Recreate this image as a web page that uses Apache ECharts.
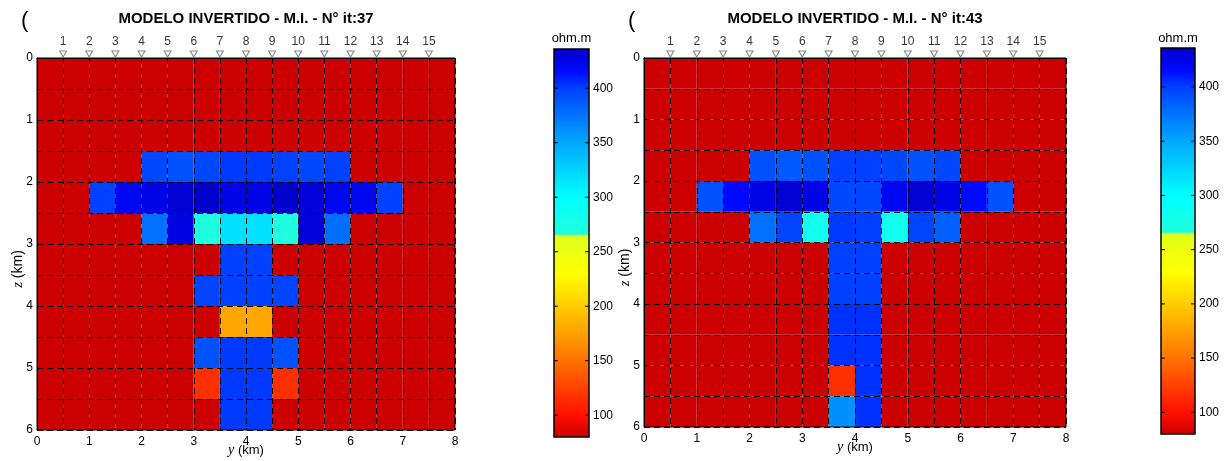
<!DOCTYPE html>
<html>
<head>
<meta charset="utf-8">
<script src="https://cdn.jsdelivr.net/npm/echarts@6/dist/echarts.min.js"></script>
<style>
html,body{margin:0;padding:0;background:#fff;}
#chart{width:1226px;height:461px;}
</style>
</head>
<body>
<div id="chart"></div>
<script>
// ---- data ----
const titles = ['MODELO INVERTIDO - M.I. - N° it:37', 'MODELO INVERTIDO - M.I. - N° it:43'];
const yCells = [0,0.5,1,1.5,2,2.5,3,3.5,4,4.5,5,5.5,6,6.5,7,7.5];   // left edge of each cell (km)
const zCells = [0,0.5,1,1.5,2,2.5,3,3.5,4,4.5,5,5.5];               // top edge of each cell (km)
const cellSize = 0.5;
const stationPos = [0.5,1,1.5,2,2.5,3,3.5,4,4.5,5,5.5,6,6.5,7,7.5];
const stationLabels = ['1','2','3','4','5','6','7','8','9','10','11','12','13','14','15'];
const xTickLabels = [0,1,2,3,4,5,6,7,8];
const zTickLabels = [0,1,2,3,4,5,6];
const cbTicks = [100,150,200,250,300,350,400];
const cbMin = 80, cbMax = 436;

// resistivity (ohm.m), rows = z cells, columns = y cells
const modelIt37 = [
 [80,80,80,80,80,80,80,80,80,80,80,80,80,80,80,80],
 [80,80,80,80,80,80,80,80,80,80,80,80,80,80,80,80],
 [80,80,80,80,80,80,80,80,80,80,80,80,80,80,80,80],
 [80,80,80,80,396,392,396,402,402,400,396,400,80,80,80,80],
 [80,80,400,421,425,434,436,425,425,436,431,421,421,400,80,80],
 [80,80,80,80,377,428,268,318,318,268,431,378,80,80,80,80],
 [80,80,80,80,80,80,80,400,400,80,80,80,80,80,80,80],
 [80,80,80,80,80,80,398,400,400,398,80,80,80,80,80,80],
 [80,80,80,80,80,80,80,179,179,80,80,80,80,80,80,80],
 [80,80,80,80,80,80,392,402,402,392,80,80,80,80,80,80],
 [80,80,80,80,80,80,116,402,402,116,80,80,80,80,80,80],
 [80,80,80,80,80,80,80,402,402,80,80,80,80,80,80,80]
];
const modelIt43 = [
 [80,80,80,80,80,80,80,80,80,80,80,80,80,80,80,80],
 [80,80,80,80,80,80,80,80,80,80,80,80,80,80,80,80],
 [80,80,80,80,80,80,80,80,80,80,80,80,80,80,80,80],
 [80,80,80,80,392,388,392,400,400,396,392,396,80,80,80,80],
 [80,80,392,417,425,434,425,396,396,421,434,425,415,392,80,80],
 [80,80,80,80,377,398,283,402,400,283,398,385,80,80,80,80],
 [80,80,80,80,80,80,80,400,400,80,80,80,80,80,80,80],
 [80,80,80,80,80,80,80,400,400,80,80,80,80,80,80,80],
 [80,80,80,80,80,80,80,404,404,80,80,80,80,80,80,80],
 [80,80,80,80,80,80,80,404,404,80,80,80,80,80,80,80],
 [80,80,80,80,80,80,80,116,404,80,80,80,80,80,80,80],
 [80,80,80,80,80,80,80,361,404,80,80,80,80,80,80,80]
];

// ---- colormap (style) ----
const cmapStops = [
 [80,[204,0,0]],[100,[255,16,0]],[150,[255,115,0]],[200,[255,205,0]],[230,[255,255,0]],
 [265,[222,255,30]],[266,[32,255,222]],[300,[0,255,255]],[350,[0,168,255]],
 [400,[0,64,255]],[415,[0,10,255]],[436,[0,0,205]]
];
function cmapAt(v){
  for(let i=0;i<cmapStops.length-1;i++){
    const a=cmapStops[i], b=cmapStops[i+1];
    if(v>=a[0] && v<=b[0]){
      const t=(v-a[0])/(b[0]-a[0]);
      const c=a[1].map((x,k)=>Math.round(x+(b[1][k]-x)*t));
      return 'rgb('+c.join(',')+')';
    }
  }
  return 'rgb(0,0,205)';
}
const cmapColors=[];
for(let v=cbMin; v<=cbMax; v++) cmapColors.push(cmapAt(v));
const cbGradientStops = cmapColors.map((c,k)=>({offset:k/(cmapColors.length-1), color:c}));

function toCells(m){
  const out=[];
  zCells.forEach((z,r)=>{ yCells.forEach((y,c)=>{ out.push([y,z,m[r][c]]); }); });
  return out;
}

const FONT='Liberation Sans';
const plots=[
  {left:37, top:58, width:418, height:372, cb:{left:554, top:49, width:35, height:388}, paren:21},
  {left:644, top:58, width:422, height:369, cb:{left:1161, top:48, width:34, height:386}, paren:628}
];
const models=[modelIt37, modelIt43];

const grid=[], xAxis=[], yAxis=[], series=[], visualMap=[], title=[], graphic=[];
plots.forEach((p,i)=>{
  grid.push({left:p.left, top:p.top, width:p.width, height:p.height, show:true,
    borderColor:'#000', borderWidth:1, backgroundColor:'transparent', z:10,
    containLabel:false, outerBoundsMode:'none'});
  grid.push({left:p.cb.left, top:p.cb.top, width:p.cb.width, height:p.cb.height, show:true,
    borderColor:'#000', borderWidth:1.5, backgroundColor:'transparent', z:10,
    containLabel:false, outerBoundsMode:'none'});
  const dash={color:'#000', type:[6,4], width:1};
  xAxis.push({gridIndex:2*i, type:'value', min:0, max:8, interval:cellSize, position:'bottom', z:10,
    axisLine:{lineStyle:{color:'#000'}}, axisTick:{show:false},
    axisLabel:{color:'#000', fontSize:12, fontFamily:FONT, margin:6,
      customValues:xTickLabels},
    splitLine:{show:true, lineStyle:dash},
    name:'{i|y} (km)', nameLocation:'middle', nameGap:13, nameMoveOverlap:false,
    nameTextStyle:{color:'#000', fontSize:13, fontFamily:FONT, verticalAlign:'top',
      rich:{i:{fontFamily:'Liberation Serif', fontStyle:'italic', fontSize:14, color:'#000'}}}});
  yAxis.push({gridIndex:2*i, type:'value', min:0, max:6, interval:cellSize, inverse:true, position:'left', z:10,
    axisLine:{lineStyle:{color:'#000'}}, axisTick:{show:false},
    axisLabel:{color:'#000', fontSize:12, fontFamily:FONT, margin:4, customValues:zTickLabels},
    splitLine:{show:true, lineStyle:dash},
    name:'{i|z} (km)', nameLocation:'middle', nameGap:11, nameMoveOverlap:false,
    nameTextStyle:{color:'#000', fontSize:14, fontFamily:FONT, padding:[0,50,0,0],
      rich:{i:{fontFamily:'Liberation Serif', fontStyle:'italic', fontSize:15, color:'#000'}}}});
  // colorbar axes
  xAxis.push({gridIndex:2*i+1, type:'value', min:0, max:1, show:false});
  yAxis.push({gridIndex:2*i+1, type:'value', min:cbMin, max:cbMax, position:'right', z:11,
    axisLine:{show:false, onZero:false}, splitLine:{show:false},
    axisTick:{show:false},
    axisLabel:{color:'#000', fontSize:12, fontFamily:FONT, margin:4, customValues:cbTicks}});
});
// yAxis indices: plot0 ->0, cb0 ->1, plot1 ->2, cb1 ->3
const plotY=[0,2];
plots.forEach((p,i)=>{
  series.push({type:'custom', xAxisIndex:2*i, yAxisIndex:plotY[i], z:2,
    data:toCells(models[i]),
    encode:{x:0, y:1},
    renderItem:function(params, api){
      const y0=api.value(0), z0=api.value(1);
      const a=api.coord([y0, z0]), b=api.coord([y0+cellSize, z0+cellSize]);
      return {type:'rect',
        shape:{x:Math.min(a[0],b[0]), y:Math.min(a[1],b[1]), width:Math.abs(b[0]-a[0]), height:Math.abs(b[1]-a[1])},
        style:{fill:api.visual('color'), stroke:null}};
    }});
});
plots.forEach((p,i)=>{
  series.push({type:'scatter', xAxisIndex:2*i, yAxisIndex:plotY[i], z:12, clip:false, silent:true,
    data:stationPos.map((s,k)=>({value:[s,0], name:stationLabels[k]})),
    symbol:'triangle', symbolRotate:180, symbolSize:[7,6], symbolOffset:[0,-4],
    itemStyle:{color:'#fff', borderColor:'#666', borderWidth:1},
    label:{show:true, position:'top', distance:3, formatter:'{b}', color:'#000', fontSize:12, fontFamily:FONT}});
});
// colorbars drawn through the colorbar axes
plots.forEach((p,i)=>{
  series.push({type:'custom', xAxisIndex:2*i+1, yAxisIndex:plotY[i]+1, z:2, silent:true,
    data:[[0, cbMin, cbMax]],
    renderItem:function(params, api){
      const a=api.coord([0, api.value(2)]), b=api.coord([1, api.value(1)]);
      return {type:'rect', shape:{x:a[0], y:a[1], width:b[0]-a[0], height:b[1]-a[1]},
        style:{fill:new echarts.graphic.LinearGradient(0,1,0,0, cbGradientStops)}};
    }});
  // inside tick marks on both edges of the colorbar
  series.push({type:'custom', xAxisIndex:2*i+1, yAxisIndex:plotY[i]+1, z:12, silent:true,
    data:cbTicks.map(v=>[0, v]), encode:{x:0, y:1},
    renderItem:function(params, api){
      const l=api.coord([0, api.value(1)]), r=api.coord([1, api.value(1)]);
      const st={stroke:'#000', lineWidth:1};
      return {type:'group', children:[
        {type:'line', shape:{x1:l[0], y1:l[1], x2:l[0]+4, y2:l[1]}, style:st},
        {type:'line', shape:{x1:r[0]-4, y1:r[1], x2:r[0], y2:r[1]}, style:st}
      ]};
    }});
});
plots.forEach((p,i)=>{
  visualMap.push({type:'continuous', seriesIndex:i, dimension:2, min:cbMin, max:cbMax,
    show:false, inRange:{color:cmapColors}});
  title.push({text:titles[i], left:p.left+p.width/2, textAlign:'center', top:11, padding:0,
    textStyle:{fontFamily:FONT, fontWeight:'bold', fontSize:15, color:'#000'}});
  graphic.push({type:'text', left:p.paren, top:10, style:{text:'(', fontSize:22, fontFamily:FONT, fill:'#000'}});
  graphic.push({type:'text', x:p.cb.left+p.cb.width/2, y:38,
    style:{text:'ohm.m', fontSize:13, fontFamily:FONT, fill:'#000', textAlign:'center', textVerticalAlign:'middle'}});
});

const chart=echarts.init(document.getElementById('chart'), null, {renderer:'canvas'});
chart.setOption({animation:false, backgroundColor:'#fff', title, grid, xAxis, yAxis, series, visualMap, graphic});
</script>
</body>
</html>
